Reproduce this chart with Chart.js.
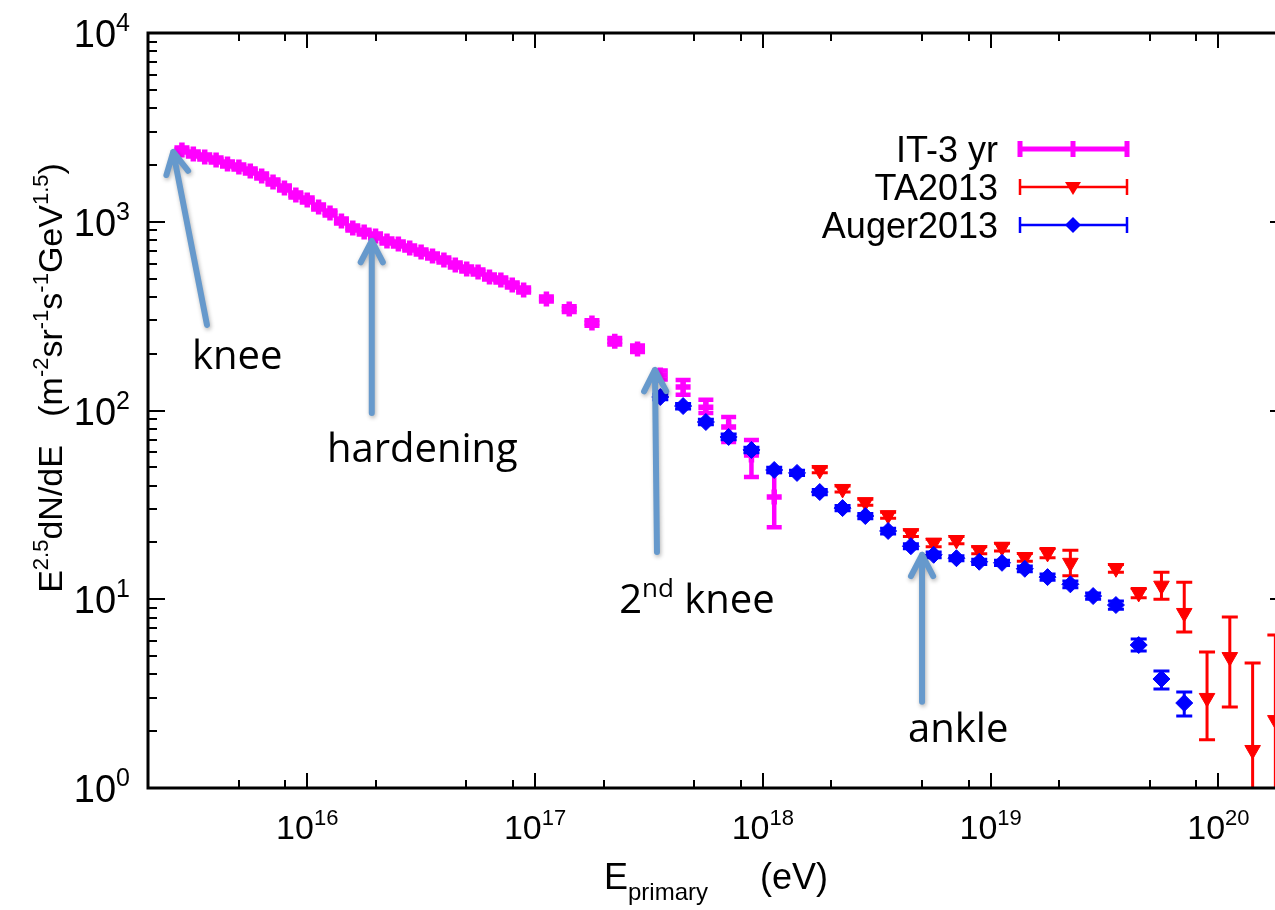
<!DOCTYPE html>
<html lang="en">
<head>
<meta charset="UTF-8">
<title>Cosmic ray energy spectrum</title>
<style>
    html, body { margin: 0; padding: 0; background: #fff; overflow: hidden; }
    canvas { display: block; }
</style>
</head>
<body>
<canvas id="spectrum" width="1300" height="910"></canvas>
<script src="https://cdn.jsdelivr.net/npm/chart.js"></script>
<script>
// IceTop 3 yr (IT-3 yr)
const itEnergy = [2.818e15, 3.162e15, 3.548e15, 3.981e15, 4.467e15, 5.012e15, 5.623e15, 6.310e15, 7.079e15, 7.943e15,
    8.913e15, 1.000e16, 1.122e16, 1.259e16, 1.413e16, 1.585e16, 1.778e16, 1.995e16, 2.239e16, 2.512e16,
    2.818e16, 3.162e16, 3.548e16, 3.981e16, 4.467e16, 5.012e16, 5.623e16, 6.310e16, 7.079e16, 7.943e16,
    8.913e16, 1.122e17, 1.413e17, 1.778e17, 2.239e17, 2.818e17, 3.548e17, 4.467e17, 5.623e17, 7.079e17,
    8.913e17, 1.122e18];
const itFlux = [2399, 2285, 2203, 2125, 2023, 1951, 1857, 1747, 1624, 1510,
    1386, 1304, 1197, 1113, 1009, 927, 882, 841, 791, 762,
    726, 691, 658, 627, 590, 562, 542, 510, 491, 462,
    435, 390, 345, 291, 233, 212, 154, 133, 104, 81.8,
    58.1, 34.8];
const itLow = [2327, 2216, 2137, 2061, 1962, 1892, 1801, 1695, 1575, 1465,
    1344, 1265, 1161, 1080, 979, 899, 856, 816, 767, 739,
    704, 670, 638, 608, 572, 545, 526, 495, 476, 448,
    422, 378, 333, 281, 224, 204, 146, 121, 97, 68,
    44.4, 24.1];
const itHigh = [2471, 2354, 2269, 2189, 2084, 2010, 1913, 1799, 1673, 1555,
    1428, 1343, 1233, 1146, 1039, 955, 908, 866, 815, 785,
    748, 712, 678, 646, 608, 579, 558, 525, 506, 476,
    448, 402, 357, 301, 242, 221, 163, 145, 114, 92.4,
    69.7, 47.2];

// Telescope Array 2013
const taEnergy = [1.778e18, 2.239e18, 2.818e18, 3.548e18, 4.467e18, 5.623e18, 7.079e18, 8.913e18, 1.122e19, 1.413e19,
    1.778e19, 2.239e19, 3.548e19, 4.467e19, 5.623e19, 7.079e19, 8.913e19, 1.122e20, 1.413e20, 1.778e20];
const taFlux = [48.4, 38.4, 32.7, 27.9, 22.4, 19.9, 20.6, 18.2, 18.9, 16.7,
    17.6, 15.6, 14.6, 10.8, 11.8, 8.46, 3.00, 4.94, 1.59, 2.29];
const taLow = [46.8, 37.0, 31.5, 26.9, 21.5, 19.0, 19.7, 17.4, 18.0, 15.9,
    16.6, 13.3, 13.9, 10.2, 10.0, 6.71, 1.80, 2.69, 0.3, 0.3];
const taHigh = [50.0, 39.8, 33.9, 28.9, 23.3, 20.8, 21.5, 19.0, 19.8, 17.5,
    18.6, 18.2, 15.3, 11.4, 13.9, 12.3, 5.25, 8.05, 4.60, 6.47];

// Pierre Auger 2013
const augerEnergy = [3.548e17, 4.467e17, 5.623e17, 7.079e17, 8.913e17, 1.122e18, 1.413e18, 1.778e18, 2.239e18, 2.818e18,
    3.548e18, 4.467e18, 5.623e18, 7.079e18, 8.913e18, 1.122e19, 1.413e19, 1.778e19, 2.239e19, 2.818e19,
    3.548e19, 4.467e19, 5.623e19, 7.079e19];
const augerFlux = [117.9, 105.6, 86.9, 72.4, 61.8, 48.4, 46.7, 37.0, 30.4, 27.6,
    23.0, 19.1, 17.2, 16.5, 15.8, 15.6, 14.5, 13.1, 12.0, 10.4,
    9.32, 5.72, 3.78, 2.82];
const augerLow = [114, 102, 84, 70, 59.8, 46.8, 45.2, 35.8, 29.4, 26.7,
    22.2, 18.5, 16.6, 16.0, 15.3, 15.1, 14.0, 12.6, 11.5, 10.0,
    8.85, 5.32, 3.35, 2.41];
const augerHigh = [122, 109, 90, 75, 63.8, 50.0, 48.2, 38.2, 31.4, 28.5,
    23.8, 19.7, 17.8, 17.0, 16.3, 16.1, 15.0, 13.6, 12.5, 10.8,
    9.8, 6.16, 4.17, 3.23];

// axis ticks
const xMajorTicks = [1e16, 1e17, 1e18, 1e19, 1e20];
const xTickExponents = ['16', '17', '18', '19', '20'];
const xMinorTicks = [5e15, 8e15, 2e16, 5e16, 8e16, 2e17, 5e17, 8e17, 2e18, 5e18, 8e18, 2e19, 5e19, 8e19];
const yMajorTicks = [1, 10, 100, 1000, 10000];
const yTickExponents = ['0', '1', '2', '3', '4'];
const yMinorTicks = [2, 3, 4, 5, 6, 7, 8, 9, 20, 30, 40, 50, 60, 70, 80, 90,
    200, 300, 400, 500, 600, 700, 800, 900, 2000, 3000, 4000, 5000, 6000, 7000, 8000, 9000];

// annotations: label, text anchor, arrow tail, arrow tip (energy, flux)
const notes = [
    { text: 'knee', at: [3.12e15, 166], tail: [3.63e15, 284], tip: [2.58e15, 2342] },
    { text: 'hardening', at: [1.22e16, 53.3], tail: [1.92e16, 97], tip: [1.92e16, 791] },
    { text: '2', sup: 'nd', rest: ' knee', at: [2.34e17, 8.45], tail: [3.43e17, 17.8], tip: [3.36e17, 164] },
    { text: 'ankle', at: [4.34e18, 1.75], tail: [5.00e18, 2.86], tip: [5.00e18, 17.2] }
];

const MAGENTA = '#ff00ff', RED = '#ff0000', BLUE = '#0000ff';
const TICK_FONT = '"Liberation Sans", Arial, sans-serif';
const NOTE_FONT = '"Open Sans", sans-serif';

function toPoints(xs, ys, lo, hi) {
    return xs.map((x, i) => ({ x: x, y: ys[i], lo: lo[i], hi: hi[i] }));
}

// text made of normal / superscript / subscript pieces
function drawRich(ctx, parts, y, size) {
    const fontOf = p => (p.s ? Math.round(size * 0.66) : size) + 'px ' + TICK_FONT;
    let w = 0;
    for (const p of parts) {
        ctx.font = fontOf(p);
        w += ctx.measureText(p.t).width;
    }
    return {
        width: w,
        draw(x0) {
            let cx = x0;
            for (const p of parts) {
                ctx.font = fontOf(p);
                const dy = p.s === 'sup' ? -size * 0.42 : p.s === 'sub' ? size * 0.3 : 0;
                ctx.fillText(p.t, cx, y + dy);
                cx += ctx.measureText(p.t).width;
            }
        }
    };
}

const errorBars = {
    id: 'errorBars',
    beforeDatasetDraw(chart, args) {
        const { ctx, chartArea: a, scales: { x, y } } = chart;
        const ds = chart.data.datasets[args.index];
        ctx.save();
        ctx.beginPath();
        ctx.rect(a.left, a.top, a.right - a.left, a.bottom - a.top);
        ctx.clip();
        ctx.strokeStyle = ds.borderColor;
        ctx.lineWidth = ds.barWidth;
        ds.data.forEach(p => {
            const px = x.getPixelForValue(p.x);
            const y1 = y.getPixelForValue(p.lo), y2 = y.getPixelForValue(p.hi);
            const c = ds.capHalf;
            ctx.beginPath();
            ctx.moveTo(px, y1); ctx.lineTo(px, y2);
            ctx.moveTo(px - c, y1); ctx.lineTo(px + c, y1);
            ctx.moveTo(px - c, y2); ctx.lineTo(px + c, y2);
            ctx.stroke();
        });
        ctx.restore();
    }
};

const decorations = {
    id: 'decorations',
    afterDraw(chart) {
        const { ctx, chartArea: a, scales: { x, y } } = chart;
        ctx.save();
        ctx.fillStyle = '#000';
        ctx.strokeStyle = '#000';

        // inward ticks on all four sides
        ctx.lineWidth = 2;
        ctx.beginPath();
        const xt = (v, len) => {
            const px = Math.round(x.getPixelForValue(v));
            ctx.moveTo(px, a.bottom); ctx.lineTo(px, a.bottom - len);
            ctx.moveTo(px, a.top); ctx.lineTo(px, a.top + len);
        };
        const yt = (v, len) => {
            const py = Math.round(y.getPixelForValue(v));
            ctx.moveTo(a.left, py); ctx.lineTo(a.left + len, py);
            ctx.moveTo(a.right, py); ctx.lineTo(a.right - len, py);
        };
        xMajorTicks.forEach(v => xt(v, 15));
        xMinorTicks.forEach(v => xt(v, 8));
        yMajorTicks.forEach(v => yt(v, 17));
        yMinorTicks.forEach(v => yt(v, 9));
        ctx.stroke();

        // frame
        ctx.lineWidth = 3;
        ctx.strokeRect(a.left, a.top, a.right - a.left, a.bottom - a.top);

        // tick labels
        ctx.textBaseline = 'alphabetic';
        xMajorTicks.forEach((v, i) => {
            const r = drawRich(ctx, [{ t: '10' }, { t: xTickExponents[i], s: 'sup' }], 839, 34);
            r.draw(x.getPixelForValue(v) - r.width / 2);
        });
        yMajorTicks.forEach((v, i) => {
            const py = y.getPixelForValue(v);
            const r = drawRich(ctx, [{ t: '10' }, { t: yTickExponents[i], s: 'sup' }], py + 14, 38);
            r.draw(130 - r.width);
        });

        // x axis title
        drawRich(ctx, [{ t: 'E' }, { t: 'primary', s: 'sub' }], 889, 36).draw(604);
        drawRich(ctx, [{ t: '(eV)' }], 889, 36).draw(760);

        // y axis title
        ctx.save();
        ctx.translate(62, 378);
        ctx.rotate(-Math.PI / 2);
        const yTitle = drawRich(ctx, [
            { t: 'E' }, { t: '2.5', s: 'sup' }, { t: 'dN/dE   (m' }, { t: '-2', s: 'sup' }, { t: 'sr' },
            { t: '-1', s: 'sup' }, { t: 's' }, { t: '-1', s: 'sup' }, { t: 'GeV' }, { t: '1.5', s: 'sup' }, { t: ')' }
        ], 0, 34);
        yTitle.draw(-yTitle.width / 2);
        ctx.restore();

        // legend
        const legend = [
            { label: 'IT-3 yr', color: MAGENTA, width: 5, style: 'cross' },
            { label: 'TA2013', color: RED, width: 2.5, style: 'triangle' },
            { label: 'Auger2013', color: BLUE, width: 2.5, style: 'diamond' }
        ];
        legend.forEach((item, i) => {
            const ly = 149 + i * 38;
            ctx.font = '36px ' + TICK_FONT;
            ctx.textAlign = 'right';
            ctx.fillStyle = '#000';
            ctx.fillText(item.label, 998, ly + 13);
            ctx.textAlign = 'left';
            ctx.strokeStyle = item.color;
            ctx.fillStyle = item.color;
            ctx.lineWidth = item.width;
            ctx.beginPath();
            ctx.moveTo(1020, ly); ctx.lineTo(1127, ly);
            ctx.moveTo(1020, ly - 8); ctx.lineTo(1020, ly + 8);
            ctx.moveTo(1127, ly - 8); ctx.lineTo(1127, ly + 8);
            if (item.style === 'cross') { ctx.moveTo(1073, ly - 8); ctx.lineTo(1073, ly + 8); }
            ctx.stroke();
            ctx.beginPath();
            if (item.style === 'triangle') {
                ctx.moveTo(1065, ly - 5); ctx.lineTo(1081, ly - 5); ctx.lineTo(1073, ly + 8);
            } else if (item.style === 'diamond') {
                ctx.moveTo(1073, ly - 8); ctx.lineTo(1081, ly); ctx.lineTo(1073, ly + 8); ctx.lineTo(1065, ly);
            }
            ctx.closePath();
            if (item.style !== 'cross') ctx.fill();
        });

        // annotations with arrows
        notes.forEach(n => {
            const tx = x.getPixelForValue(n.at[0]), ty = y.getPixelForValue(n.at[1]);
            ctx.fillStyle = '#000';
            ctx.font = '40px ' + NOTE_FONT;
            ctx.fillText(n.text, tx, ty);
            if (n.sup) {
                let cx = tx + ctx.measureText(n.text).width;
                ctx.font = '26px ' + NOTE_FONT;
                ctx.fillText(n.sup, cx, ty - 16);
                cx += ctx.measureText(n.sup).width;
                ctx.font = '40px ' + NOTE_FONT;
                ctx.fillText(n.rest, cx, ty);
            }
            const x1 = x.getPixelForValue(n.tail[0]), y1 = y.getPixelForValue(n.tail[1]);
            const x2 = x.getPixelForValue(n.tip[0]), y2 = y.getPixelForValue(n.tip[1]);
            const ang = Math.atan2(y2 - y1, x2 - x1);
            const head = 24, spread = 0.48;
            ctx.save();
            ctx.shadowColor = 'rgba(0,0,0,0.3)';
            ctx.shadowBlur = 4;
            ctx.shadowOffsetX = 1;
            ctx.shadowOffsetY = 2;
            ctx.strokeStyle = '#6699cc';
            ctx.lineWidth = 6;
            ctx.lineCap = 'round';
            ctx.lineJoin = 'round';
            ctx.beginPath();
            ctx.moveTo(x1, y1); ctx.lineTo(x2, y2);
            ctx.moveTo(x2 - head * Math.cos(ang - spread), y2 - head * Math.sin(ang - spread));
            ctx.lineTo(x2, y2);
            ctx.lineTo(x2 - head * Math.cos(ang + spread), y2 - head * Math.sin(ang + spread));
            ctx.stroke();
            ctx.restore();
        });

        ctx.restore();
    }
};

const W = 1300, H = 910;

new Chart(document.getElementById('spectrum'), {
    type: 'scatter',
    data: {
        datasets: [
            {
                label: 'IT-3 yr',
                data: toPoints(itEnergy, itFlux, itLow, itHigh),
                pointStyle: 'cross',
                pointRadius: 7.5,
                borderColor: MAGENTA,
                backgroundColor: MAGENTA,
                pointBorderWidth: 5.5,
                barWidth: 4.5,
                capHalf: 7.5,
                order: 3
            },
            {
                label: 'TA2013',
                data: toPoints(taEnergy, taFlux, taLow, taHigh),
                pointStyle: 'triangle',
                rotation: 180,
                pointRadius: 9,
                borderColor: RED,
                backgroundColor: RED,
                pointBorderWidth: 1,
                barWidth: 3,
                capHalf: 8,
                order: 2
            },
            {
                label: 'Auger2013',
                data: toPoints(augerEnergy, augerFlux, augerLow, augerHigh),
                pointStyle: 'rectRot',
                pointRadius: 8.5,
                borderColor: BLUE,
                backgroundColor: BLUE,
                pointBorderWidth: 1,
                barWidth: 3,
                capHalf: 8,
                order: 1
            }
        ]
    },
    options: {
        responsive: false,
        animation: false,
        layout: { padding: { left: 148, top: 33, right: W - 1287, bottom: H - 788 } },
        scales: {
            x: { type: 'logarithmic', min: 2e15, max: 2e20, display: false },
            y: { type: 'logarithmic', min: 1, max: 1e4, display: false }
        },
        plugins: {
            legend: { display: false },
            tooltip: { enabled: false }
        }
    },
    plugins: [errorBars, decorations]
});
</script>
</body>
</html>
